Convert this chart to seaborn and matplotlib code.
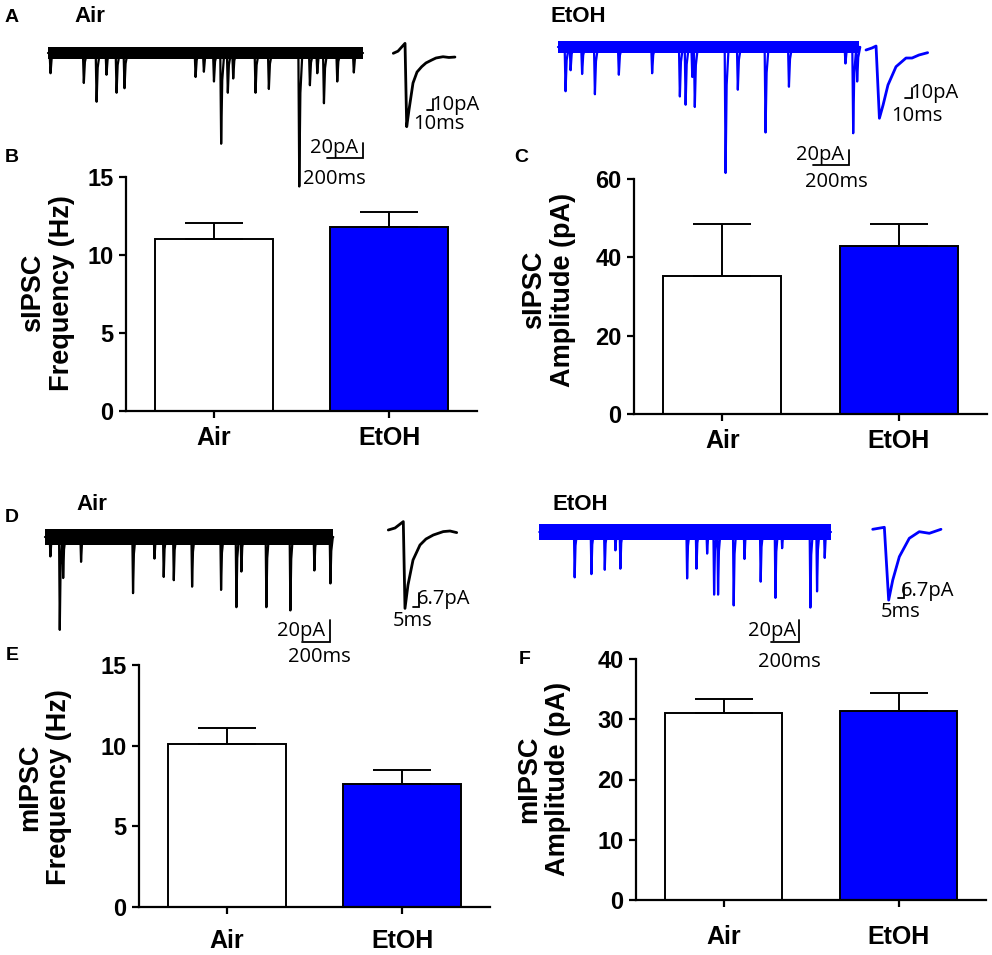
import matplotlib
matplotlib.use("Agg")
import matplotlib.pyplot as plt
import seaborn as sns

W, H = 992, 955
BLUE = "#0000FF"

groups = ["Air", "EtOH"]

# bar panels: mean and SEM (upper error only)
sipsc_freq = [11.0, 11.8]
sipsc_freq_sem = [1.05, 0.95]
sipsc_amp = [35.3, 43.0]
sipsc_amp_sem = [13.3, 5.5]
mipsc_freq = [10.1, 7.6]
mipsc_freq_sem = [1.0, 0.9]
mipsc_amp = [31.1, 31.4]
mipsc_amp_sem = [2.3, 3.0]

# sIPSC raw traces: event onset (ms) and amplitude (pA)
sipsc_air_t = [11, 196, 267, 322, 378, 422, 817, 863, 919, 959, 996, 1026,
               1150, 1224, 1393, 1452, 1493, 1530, 1604, 1696]
sipsc_air_a = [27, 40, 65, 29, 53, 47, 32, 25, 38, 121, 53, 34,
               53, 48, 178, 43, 27, 67, 38, 26]
sipsc_air_end = 1750
sipsc_etoh_t = [39, 67, 131, 202, 335, 520, 674, 706, 743, 757, 928, 996,
                1150, 1280, 1594, 1637, 1659]
sipsc_etoh_a = [59, 31, 36, 63, 37, 35, 66, 77, 40, 80, 168, 57,
                114, 53, 22, 115, 46]
sipsc_etoh_end = 1672

# mIPSC raw traces
mipsc_air_t = [35, 101, 125, 251, 617, 768, 833, 904, 1033, 1237, 1345, 1380,
               1556, 1725, 1894, 2007]
mipsc_air_a = [18, 86, 38, 23, 52, 20, 37, 40, 46, 49, 65, 32,
               65, 68, 31, 43]
mipsc_air_end = 2030
mipsc_etoh_t = [246, 364, 458, 533, 568, 1038, 1104, 1179, 1228, 1256, 1366,
                1442, 1556, 1660, 1707, 1906, 1953, 2007]
mipsc_etoh_a = [42, 39, 35, 17, 34, 43, 34, 20, 58, 58, 68,
                25, 46, 61, 15, 70, 55, 24]
mipsc_etoh_end = 2054

# averaged events (time ms, current pA)
avg_s_air_t = [0, 7, 17.5, 20, 23.4, 29.4, 35.4, 42.4, 48.8, 57.3, 63.7, 74.2, 83, 92]
avg_s_air_i = [0, 2, 9.3, -68.6, -53, -27.8, -17.5, -12.5, -9, -6.3, -4.4, -3.2, -3.9, -3.5]
avg_s_etoh_t = [0, 9, 15, 20, 25.5, 32.8, 44.8, 59.7, 68.7, 79, 92]
avg_s_etoh_i = [0, 1.9, 3.7, -63.8, -51.4, -32.7, -15.6, -7.5, -7.5, -4.7, -2.5]
avg_m_air_t = [0, 5.6, 12.5, 13.9, 16.4, 20.6, 26.4, 31.4, 37.5, 45.8, 51.4, 57]
avg_m_air_i = [0, 1, 4.2, -39.2, -27.5, -15, -7.5, -4.5, -2.5, -0.8, -0.5, -1.3]
avg_m_etoh_t = [0, 9.7, 13.3, 16.7, 22.2, 30.5, 38.8, 47.2, 56.9]
avg_m_etoh_i = [0, 1, -35.4, -25.4, -13.7, -4.5, -1.2, -2, 0]


def px_box(x0, y0, x1, y1):
    return [x0 / W, 1 - y1 / H, (x1 - x0) / W, (y1 - y0) / H]


def trace_axes(fig, box, origin, px_ms, px_pa):
    '''Axes whose data units are ms and pA, placed by a pixel box.'''
    x0, y0, x1, y1 = box
    ax = fig.add_axes(px_box(*box), zorder=5)
    ax.set_xlim((x0 - origin[0]) / px_ms, (x1 - origin[0]) / px_ms)
    ax.set_ylim(-(y1 - origin[1]) / px_pa, -(y0 - origin[1]) / px_pa)
    ax.axis("off")
    ax.patch.set_visible(False)
    return ax


def event_trace(times, amps, t_end):
    t, y = [0], [0]
    for ti, a in zip(times, amps):
        t += [ti - 2, ti + 3, ti + 9, ti + 20]
        y += [0, -a, -0.3 * a, 0]
    t.append(t_end)
    y.append(0)
    return t, y


def draw_raw(ax, times, amps, t_end, noise, color):
    t, y = event_trace(times, amps, t_end)
    ax.fill_between([0, t_end], -noise, noise, color=color, lw=0)
    sns.lineplot(x=t, y=y, sort=False, estimator=None, color=color,
                 linewidth=1.6, ax=ax)


def scale_bar(ax, x, y, dx, dy, color="black"):
    ax.plot([x - dx, x, x], [y, y, y + dy], color=color, lw=1.3,
            solid_joinstyle="miter")


def small_text(ax, x, y, s, ha="left", va="center"):
    ax.text(x, y, s, ha=ha, va=va, fontsize=14.5, fontweight="normal",
            family=["Open Sans", "DejaVu Sans"])


def bar_panel(fig, box, values, sems, ylim, yticks, ylabel, label_xy, xpad):
    ax = fig.add_axes(px_box(*box))
    ax.patch.set_visible(False)
    sns.barplot(x=groups, y=values, hue=groups, palette=["white", BLUE],
                edgecolor="black", linewidth=1.4, width=0.67, saturation=1,
                errorbar=None, legend=False, ax=ax)
    ax.errorbar([0, 1], values, yerr=[[0, 0], sems], fmt="none",
                ecolor="black", elinewidth=1.4, capsize=21, capthick=1.4,
                zorder=3)
    ax.set_xlim(-0.5, 1.5)
    ax.set_ylim(*ylim)
    ax.set_yticks(yticks)
    sns.despine(ax=ax)
    for sp in ["left", "bottom"]:
        ax.spines[sp].set_linewidth(1.6)
    ax.tick_params(axis="y", length=5, width=1.6, labelsize=17, pad=4)
    ax.tick_params(axis="x", length=5, width=1.6, labelsize=18, pad=xpad)
    for lab in ax.get_xticklabels() + ax.get_yticklabels():
        lab.set_fontweight("bold")
    ax.set_ylabel(ylabel, fontsize=19.5, fontweight="bold", linespacing=1.15)
    ax.yaxis.set_label_coords(*label_xy)
    return ax


sns.set_style("ticks")
plt.rcParams["font.family"] = ["Liberation Sans", "DejaVu Sans"]
plt.rcParams["font.weight"] = "bold"
for key in ["text.color", "axes.labelcolor", "xtick.color", "ytick.color",
            "axes.edgecolor"]:
    plt.rcParams[key] = "black"

fig = plt.figure(figsize=(W / 100, H / 100), dpi=100)

# ---- bar panels
bar_panel(fig, (126, 177, 477, 411), sipsc_freq, sipsc_freq_sem, (0, 15),
          [0, 5, 10, 15], "sIPSC\nFrequency (Hz)", (-0.145, 0.506), 6)
bar_panel(fig, (634, 179, 987, 414), sipsc_amp, sipsc_amp_sem, (0, 60),
          [0, 20, 40, 60], "sIPSC\nAmplitude (pA)", (-0.164, 0.53), 6)
bar_panel(fig, (139, 665, 490, 907), mipsc_freq, mipsc_freq_sem, (0, 15),
          [0, 5, 10, 15], "mIPSC\nFrequency (Hz)", (-0.191, 0.494), 11)
bar_panel(fig, (636, 659, 986, 900), mipsc_amp, mipsc_amp_sem, (0, 40),
          [0, 10, 20, 30, 40], "mIPSC\nAmplitude (pA)", (-0.186, 0.502), 13)

# ---- A: sIPSC traces
ax = trace_axes(fig, (40, 28, 380, 195), (48, 53), 0.18, 0.75)
draw_raw(ax, sipsc_air_t, sipsc_air_a, sipsc_air_end, 8, "black")
scale_bar(ax, 1750, -140, 200, 20)
small_text(ax, 1722, -140, "20pA", ha="right", va="bottom")
small_text(ax, 1589, -155, "200ms", ha="center", va="top")

ax = trace_axes(fig, (385, 30, 495, 145), (393.3, 53.3), 0.67, 1.07)
sns.lineplot(x=avg_s_air_t, y=avg_s_air_i, sort=False, estimator=None,
             color="black", linewidth=2.0, ax=ax)
scale_bar(ax, 59.7, -53, 10, 10)
small_text(ax, 56, -48, "10pA")
small_text(ax, 29.4, -57, "10ms", va="top")

ax = trace_axes(fig, (548, 22, 880, 195), (558, 47), 0.18, 0.75)
draw_raw(ax, sipsc_etoh_t, sipsc_etoh_a, sipsc_etoh_end, 8, BLUE)
scale_bar(ax, 1618, -157.3, 200, 20)
small_text(ax, 1590, -157, "20pA", ha="right", va="bottom")
small_text(ax, 1549, -166, "200ms", ha="center", va="top")

ax = trace_axes(fig, (860, 30, 975, 140), (866, 50), 0.67, 1.07)
sns.lineplot(x=avg_s_etoh_t, y=avg_s_etoh_i, sort=False, estimator=None,
             color=BLUE, linewidth=2.0, ax=ax)
scale_bar(ax, 68.7, -45.1, 10, 10)
small_text(ax, 66, -40, "10pA")
small_text(ax, 37.3, -52, "10ms", va="top")

# ---- D: mIPSC traces
ax = trace_axes(fig, (35, 505, 365, 670), (45, 537), 0.142, 1.08)
draw_raw(ax, mipsc_air_t, mipsc_air_a, mipsc_air_end, 7.5, "black")
scale_bar(ax, 2007, -96.9, 200, 20)
small_text(ax, 1975, -96, "20pA", ha="right", va="bottom")
small_text(ax, 1930, -101.5, "200ms", ha="center", va="top")

ax = trace_axes(fig, (380, 510, 490, 635), (388.3, 530), 1.2, 2.0)
sns.lineplot(x=avg_m_air_t, y=avg_m_air_i, sort=False, estimator=None,
             color="black", linewidth=2.0, ax=ax)
scale_bar(ax, 25.8, -38.4, 5, 6.7)
small_text(ax, 23.5, -34.5, "6.7pA")
small_text(ax, 3.7, -40.5, "5ms", va="top")

ax = trace_axes(fig, (530, 505, 860, 680), (539.3, 532), 0.142, 1.08)
draw_raw(ax, mipsc_etoh_t, mipsc_etoh_a, mipsc_etoh_end, 7.5, BLUE)
scale_bar(ax, 1831, -101.6, 200, 20)
small_text(ax, 1810, -101, "20pA", ha="right", va="bottom")
small_text(ax, 1758, -111.5, "200ms", ha="center", va="top")

ax = trace_axes(fig, (865, 510, 975, 630), (872.7, 529.3), 1.2, 2.0)
sns.lineplot(x=avg_m_etoh_t, y=avg_m_etoh_i, sort=False, estimator=None,
             color=BLUE, linewidth=2.0, ax=ax)
scale_bar(ax, 25.8, -34.5, 5, 6.7)
small_text(ax, 23.5, -31, "6.7pA")
small_text(ax, 6.9, -36.5, "5ms", va="top")

# ---- panel letters and trace titles
for letter, x, y in [("A", 12, 17), ("B", 12, 158), ("C", 521, 157),
                     ("D", 12, 518), ("E", 12, 656), ("F", 525, 659)]:
    fig.text(x / W, 1 - y / H, letter, ha="center", va="center",
             fontsize=14, fontweight="bold")
for name, x, y in [("Air", 90, 17), ("Air", 92, 504),
                   ("EtOH", 578, 17), ("EtOH", 580, 505)]:
    fig.text(x / W, 1 - y / H, name, ha="center", va="center",
             fontsize=16, fontweight="bold")

fig.savefig("out.png", dpi=100)
